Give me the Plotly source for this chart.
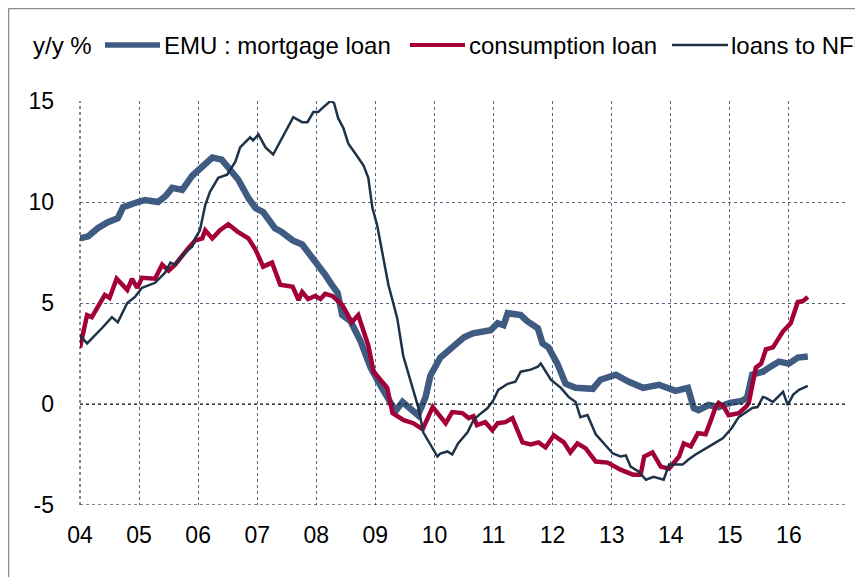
import plotly.graph_objects as go

# ---- data (decimal years, y/y %) ----
mort_t = [2004.0, 2004.14, 2004.3, 2004.47, 2004.64, 2004.73, 2004.98, 2005.1, 2005.32, 2005.45,
          2005.56, 2005.73, 2005.9, 2006.05, 2006.15, 2006.24, 2006.4, 2006.58, 2006.68, 2006.85,
          2006.97, 2007.1, 2007.3, 2007.42, 2007.6, 2007.76, 2007.9, 2008.03, 2008.15, 2008.24,
          2008.36, 2008.44, 2008.58, 2008.75, 2008.92, 2009.08, 2009.25, 2009.34, 2009.46, 2009.6,
          2009.72, 2009.85, 2009.93, 2010.1, 2010.22, 2010.35, 2010.5, 2010.65, 2010.78, 2010.95,
          2011.07, 2011.17, 2011.24, 2011.46, 2011.57, 2011.75, 2011.83, 2011.93, 2012.08, 2012.22,
          2012.39, 2012.68, 2012.81, 2013.07, 2013.29, 2013.53, 2013.8, 2013.92, 2014.08, 2014.29,
          2014.39, 2014.47, 2014.64, 2014.81, 2015.0, 2015.2, 2015.29, 2015.38, 2015.56, 2015.66,
          2015.83, 2016.0, 2016.15, 2016.32]
mort_v = [8.2, 8.3, 8.7, 9.0, 9.2, 9.75, 10.0, 10.1, 10.0, 10.3,
          10.7, 10.6, 11.3, 11.7, 11.9, 12.2, 12.1, 11.4, 11.1, 10.2,
          9.7, 9.5, 8.7, 8.5, 8.1, 7.9, 7.4, 6.9, 6.4, 6.0,
          5.5, 4.4, 4.1, 3.1, 1.8, 0.95, 0.1, -0.35, 0.1, -0.2,
          -0.55, 0.35, 1.4, 2.3, 2.6, 3.0, 3.3, 3.5, 3.6, 3.65,
          4.0, 3.9, 4.5, 4.4, 4.1, 3.75, 3.0, 2.8, 2.0, 1.0,
          0.8, 0.75, 1.2, 1.45, 1.1, 0.8, 0.95, 0.8, 0.65, 0.8,
          -0.2, -0.3, -0.05, -0.15, 0.05, 0.15, 0.3, 1.45, 1.6, 1.8,
          2.1, 2.0, 2.3, 2.35]

cons_t = [2004.0, 2004.12, 2004.2, 2004.3, 2004.42, 2004.5, 2004.62, 2004.8, 2004.88, 2004.97,
          2005.05, 2005.27, 2005.39, 2005.5, 2005.61, 2005.83, 2005.95, 2006.07, 2006.12, 2006.24,
          2006.37, 2006.51, 2006.66, 2006.85, 2006.97, 2007.1, 2007.25, 2007.39, 2007.6, 2007.7,
          2007.76, 2007.86, 2007.98, 2008.07, 2008.15, 2008.27, 2008.44, 2008.6, 2008.71, 2008.88,
          2008.97, 2009.2, 2009.29, 2009.48, 2009.64, 2009.8, 2009.97, 2010.19, 2010.3, 2010.47,
          2010.58, 2010.66, 2010.72, 2010.86, 2010.98, 2011.07, 2011.2, 2011.32, 2011.49, 2011.63,
          2011.76, 2011.88, 2012.02, 2012.19, 2012.3, 2012.42, 2012.56, 2012.73, 2012.93, 2013.15,
          2013.36, 2013.49, 2013.55, 2013.69, 2013.83, 2013.97, 2014.14, 2014.22, 2014.34, 2014.46,
          2014.59, 2014.68, 2014.76, 2014.81, 2014.9, 2014.98, 2015.15, 2015.27, 2015.32, 2015.44,
          2015.53, 2015.61, 2015.73, 2015.9, 2016.03, 2016.15, 2016.24, 2016.32]
cons_v = [2.8, 4.4, 4.3, 4.8, 5.4, 5.25, 6.2, 5.65, 6.2, 5.75,
          6.25, 6.2, 6.9, 6.6, 6.9, 7.7, 8.1, 8.2, 8.6, 8.2,
          8.6, 8.9, 8.55, 8.2, 7.65, 6.8, 7.0, 5.9, 5.8, 5.15,
          5.55, 5.2, 5.35, 5.2, 5.45, 5.35, 4.9, 4.05, 4.4, 2.9,
          1.6, 0.8, -0.45, -0.8, -0.95, -1.25, -0.15, -0.95, -0.4, -0.45,
          -0.7, -0.6, -1.05, -0.9, -1.3, -0.95, -0.9, -0.7, -1.9, -2.0,
          -1.9, -2.15, -1.55, -1.9, -2.4, -1.95, -2.2, -2.85, -2.9, -3.25,
          -3.5, -3.5, -2.6, -2.4, -3.1, -3.2, -2.6, -1.95, -2.1, -1.45,
          -1.5, -0.8, -0.15, 0.05, -0.15, -0.55, -0.45, -0.15, 0.05, 1.8,
          2.0, 2.7, 2.8, 3.6, 4.0, 5.05, 5.1, 5.3]

nfc_t = [2004.0, 2004.12, 2004.37, 2004.54, 2004.64, 2004.8, 2004.93, 2005.05, 2005.27, 2005.44,
         2005.53, 2005.61, 2005.78, 2005.9, 2005.95, 2006.03, 2006.12, 2006.2, 2006.34, 2006.49,
         2006.63, 2006.71, 2006.88, 2006.93, 2007.02, 2007.14, 2007.27, 2007.44, 2007.61, 2007.76,
         2007.85, 2007.95, 2008.03, 2008.12, 2008.24, 2008.3, 2008.37, 2008.46, 2008.54, 2008.66,
         2008.75, 2008.8, 2008.88, 2008.95, 2009.03, 2009.12, 2009.22, 2009.37, 2009.47, 2009.6,
         2009.73, 2009.81, 2009.98, 2010.05, 2010.1, 2010.22, 2010.3, 2010.4, 2010.56, 2010.66,
         2010.75, 2010.9, 2011.0, 2011.08, 2011.24, 2011.37, 2011.46, 2011.63, 2011.75, 2011.8,
         2011.97, 2012.14, 2012.27, 2012.39, 2012.47, 2012.59, 2012.73, 2012.86, 2013.02, 2013.15,
         2013.24, 2013.32, 2013.46, 2013.58, 2013.71, 2013.88, 2013.97, 2014.2, 2014.3, 2014.42,
         2014.5, 2014.68, 2014.88, 2015.03, 2015.15, 2015.27, 2015.38, 2015.47, 2015.56, 2015.61,
         2015.73, 2015.9, 2015.98, 2016.07, 2016.17, 2016.32]
nfc_v = [3.4, 3.0, 3.75, 4.3, 4.05, 5.0, 5.3, 5.75, 6.0, 6.5,
         7.0, 6.9, 7.5, 7.8, 8.2, 8.6, 9.85, 10.5, 11.2, 11.35,
         12.0, 12.7, 13.2, 13.05, 13.35, 12.7, 12.35, 13.3, 14.2, 13.95,
         13.95, 14.45, 14.45, 14.7, 15.0, 14.9, 14.15, 13.65, 12.9, 12.4,
         12.0, 11.8, 11.2, 9.7, 8.85, 7.4, 5.9, 4.25, 2.4, 1.1,
         -0.2, -1.4, -2.2, -2.6, -2.45, -2.35, -2.5, -1.95, -1.4, -0.8,
         -0.55, -0.2, 0.2, 0.7, 1.0, 1.1, 1.6, 1.7, 1.85, 2.0,
         1.2, 0.8, 0.35, 0.1, -0.65, -0.55, -1.5, -1.95, -2.45, -2.6,
         -2.55, -3.1, -3.35, -3.75, -3.6, -3.75, -3.0, -3.0, -2.75, -2.5,
         -2.35, -2.05, -1.7, -1.2, -0.65, -0.4, -0.2, -0.15, 0.35, 0.3,
         0.1, 0.6, -0.05, 0.45, 0.7, 0.9]

series_names = ["EMU : mortgage loan", "consumption loan", "loans to NFC"]
x_tickvals = list(range(2004, 2017))
x_ticktext = ["04", "05", "06", "07", "08", "09", "10", "11", "12", "13", "14", "15", "16"]
y_tickvals = [-5, 0, 5, 10, 15]
y_ticktext = ["-5", "0", "5", "10", "15"]
unit_label = "y/y %"

colors = ["#3F5B81", "#A3003A", "#1E3248"]
widths = [6.5, 4.5, 2.5]
legend_widths = [5.5, 4, 2.5]

FONT = "Liberation Sans, Arial, sans-serif"
OFF = 8  # page body margin offset
L, R, T, B = 72, 23, 93, 80
W, H = 863, 577
pw, ph = W - L - R, H - T - B

def px(xs):  # screenshot x -> paper
    return (xs - OFF - L) / pw

def py(ys):  # screenshot y -> paper
    return (H - B - (ys - OFF)) / ph

fig = go.Figure()
for t, v, name, c, w in zip([mort_t, cons_t, nfc_t], [mort_v, cons_v, nfc_v],
                            series_names, colors, widths):
    fig.add_trace(go.Scatter(x=t, y=v, mode="lines", name=name,
                             line=dict(color=c, width=w),
                             showlegend=False))

shapes = []
dot_black = dict(color="#111111", width=1, dash="dot")
shapes.append(dict(type="line", xref="paper", yref="paper", x0=0, x1=0, y0=0, y1=1, line=dot_black))
shapes.append(dict(type="line", xref="paper", yref="y", x0=0, x1=1, y0=-5, y1=-5, line=dot_black))
shapes.append(dict(type="line", xref="paper", yref="y", x0=0, x1=1, y0=0, y1=0, line=dot_black))
# outer chart border (top and left)
shapes.append(dict(type="line", xref="paper", yref="paper", x0=px(8.5), x1=px(880), y0=py(8.5), y1=py(8.5),
                   line=dict(color="#8a8a8a", width=1.5)))
shapes.append(dict(type="line", xref="paper", yref="paper", x0=px(8.5), x1=px(8.5), y0=py(8.5), y1=py(600),
                   line=dict(color="#8a8a8a", width=1.5)))

# legend swatches
leg_y = py(45)
sw = [(105, 160), (410, 465), (672, 728)]
txt_x = [162, 467, 729]
annotations = [dict(x=px(31), y=leg_y, xref="paper", yref="paper", text=unit_label,
                    showarrow=False, xanchor="left", yanchor="middle",
                    font=dict(family=FONT, size=24, color="#000"))]
for (a, b), tx, name, c, w in zip(sw, txt_x, series_names, colors, legend_widths):
    shapes.append(dict(type="line", xref="paper", yref="paper", x0=px(a), x1=px(b), y0=leg_y, y1=leg_y,
                       line=dict(color=c, width=w)))
    annotations.append(dict(x=px(tx), y=leg_y, xref="paper", yref="paper", text=name,
                            showarrow=False, xanchor="left", yanchor="middle",
                            font=dict(family=FONT, size=24, color="#000")))

fig.update_layout(
    width=W, height=H,
    margin=dict(l=L, r=R, t=T, b=B),
    paper_bgcolor="white", plot_bgcolor="white",
    font=dict(family=FONT, size=23, color="#000"),
    shapes=shapes, annotations=annotations,
    showlegend=False,
)
fig.update_xaxes(range=[2004, 2017], tickvals=x_tickvals, ticktext=x_ticktext,
                 showgrid=True, gridcolor="#56667f", griddash="dot", gridwidth=1,
                 zeroline=False, showline=False, ticks="", ticklabelstandoff=14,
                 tickfont=dict(size=23))
fig.update_yaxes(range=[-5, 15], tickvals=y_tickvals, ticktext=y_ticktext,
                 showgrid=True, gridcolor="#56667f", griddash="dot", gridwidth=1,
                 zeroline=False, showline=False, ticks="", ticklabelstandoff=25,
                 tickfont=dict(size=23))

fig.write_html("out.html")
